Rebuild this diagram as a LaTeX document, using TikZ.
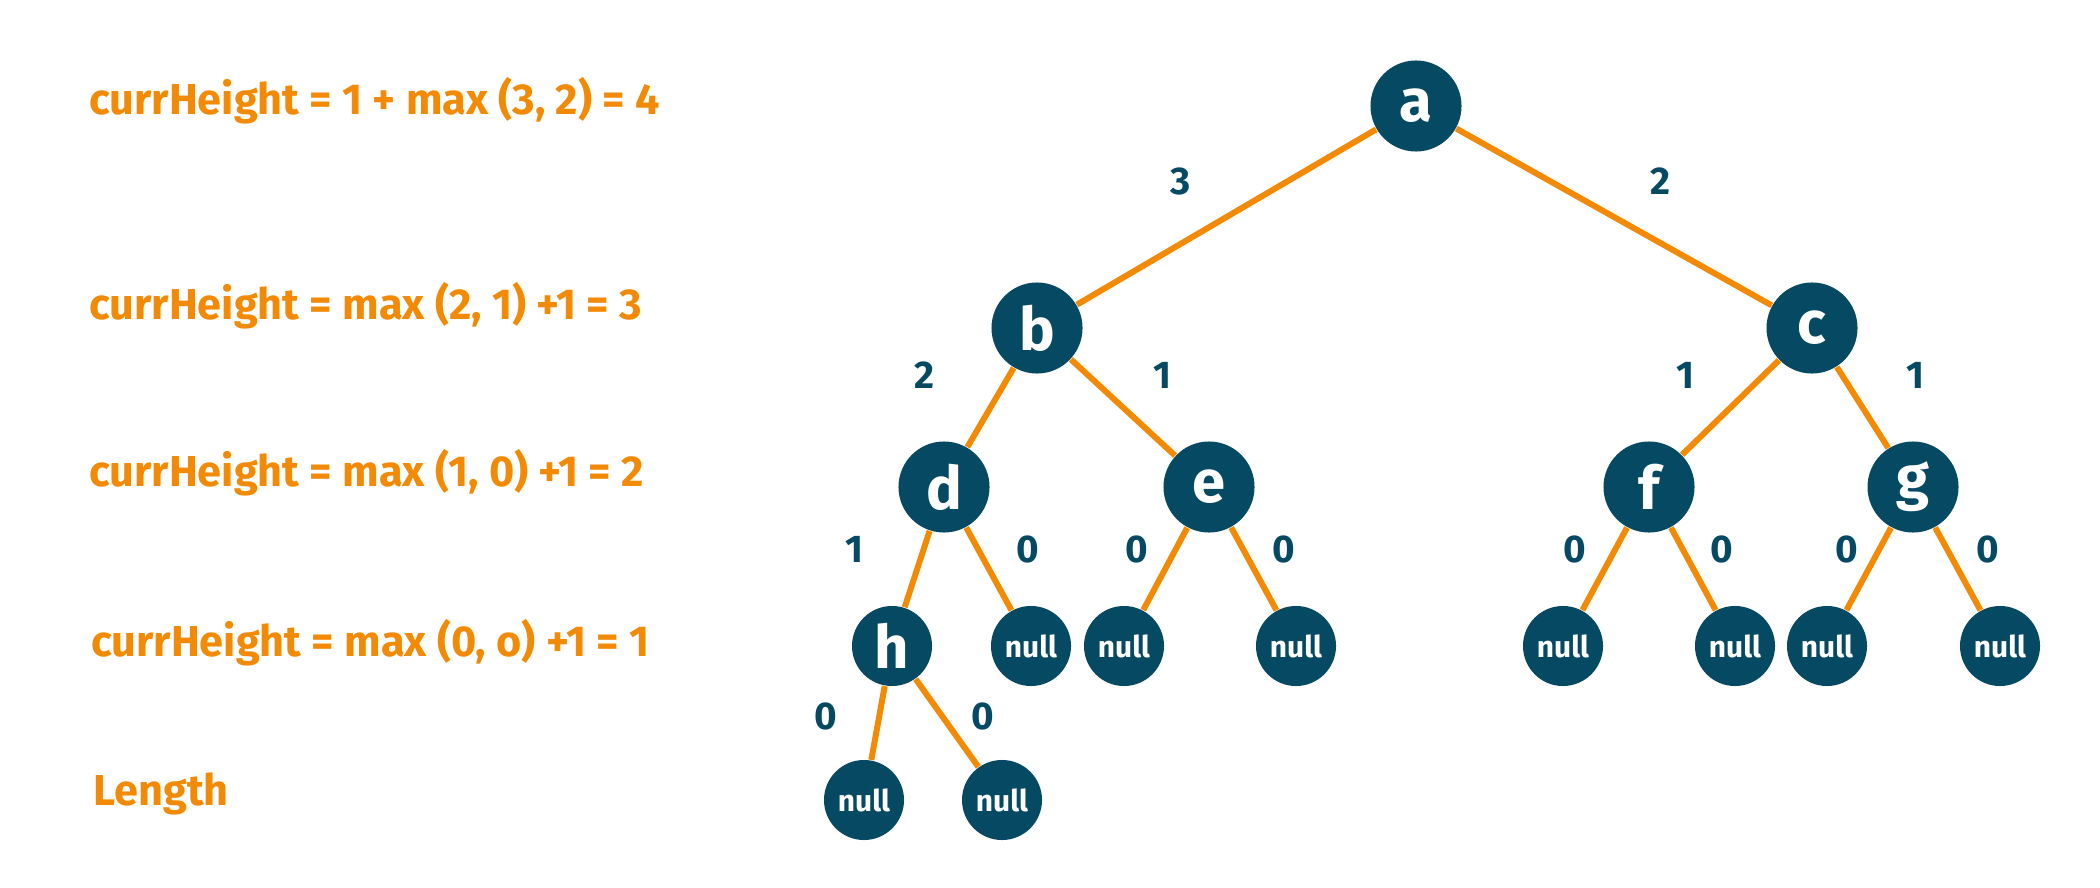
\documentclass[tikz,border=0pt]{standalone}
\usepackage{fontspec}
\setmainfont{Fira Sans}
\definecolor{org}{HTML}{F28A05}
\definecolor{nav}{HTML}{054A62}
\begin{document}
\begin{tikzpicture}[x=0.01cm,y=-0.01cm,
  nd/.style={circle,fill=nav,text=white,minimum size=91\pgflinewidth*0+25.9mm*0+9.1mm,inner sep=0pt,font=\fontsize{17}{17}\selectfont\bfseries},
  nl/.style={circle,fill=nav,text=white,minimum size=8mm,inner sep=0pt,font=\fontsize{8.5}{9}\selectfont\bfseries},
  el/.style={text=nav,font=\fontsize{11}{11}\selectfont\bfseries},
  ft/.style={anchor=west,text=org,font=\fontsize{12.3}{13}\selectfont\bfseries},
  ed/.style={draw=org,line width=1.7pt}]
\useasboundingbox (0,0) rectangle (2100,888);
\node[ft] (t1) at (77,101) {currHeight = 1 + max (3, 2) = 4};
\node[ft] (t2) at (77,306) {currHeight = max (2, 1) +1 = 3};
\node[ft] (t3) at (77,473) {currHeight = max (1, 0) +1 = 2};
\node[ft] (t4) at (79,643) {currHeight = max (0, o) +1 = 1};
\node[ft] (t5) at (81,794) {Length};
\node[nd] (a) at (1416,106) {a};
\node[nd] (b) at (1037,328) {b};
\node[nd] (c) at (1812,328) {c};
\node[nd] (d) at (944,487) {d};
\node[nd] (e) at (1209,487) {e};
\node[nd] (f) at (1649,487) {f};
\node[nd] (g) at (1913,487) {g};
\node[nd,minimum size=8mm] (h) at (892,646) {h};
\node[nl] (n1) at (1031,646) {null};
\node[nl] (n2) at (1124,646) {null};
\node[nl] (n3) at (1296,646) {null};
\node[nl] (n4) at (1563,646) {null};
\node[nl] (n5) at (1735,646) {null};
\node[nl] (n6) at (1827,646) {null};
\node[nl] (n7) at (2000,646) {null};
\node[nl] (n8) at (864,800) {null};
\node[nl] (n9) at (1002,800) {null};
\begin{scope}[on background layer/.style={}]
\end{scope}
\draw[ed] (a) -- (b); \draw[ed] (a) -- (c);
\draw[ed] (b) -- (d); \draw[ed] (b) -- (e);
\draw[ed] (c) -- (f); \draw[ed] (c) -- (g);
\draw[ed] (d) -- (h); \draw[ed] (d) -- (n1);
\draw[ed] (e) -- (n2); \draw[ed] (e) -- (n3);
\draw[ed] (f) -- (n4); \draw[ed] (f) -- (n5);
\draw[ed] (g) -- (n6); \draw[ed] (g) -- (n7);
\draw[ed] (h) -- (n8); \draw[ed] (h) -- (n9);
\node[el] (l1) at (1181,181) {3};
\node[el] (l2) at (1660,181) {2};
\node[el] (l3) at (924,375) {2};
\node[el] (l4) at (1162,375) {1};
\node[el] (l5) at (1685,375) {1};
\node[el] (l6) at (1915,375) {1};
\node[el] (l7) at (854,549) {1};
\node[el] (l8) at (1028,549) {0};
\node[el] (l9) at (1137,549) {0};
\node[el] (l10) at (1284,549) {0};
\node[el] (l11) at (1575,549) {0};
\node[el] (l12) at (1722,549) {0};
\node[el] (l13) at (1847,549) {0};
\node[el] (l14) at (1988,549) {0};
\node[el] (l15) at (826,716) {0};
\node[el] (l16) at (983,716) {0};
\end{tikzpicture}
\end{document}
